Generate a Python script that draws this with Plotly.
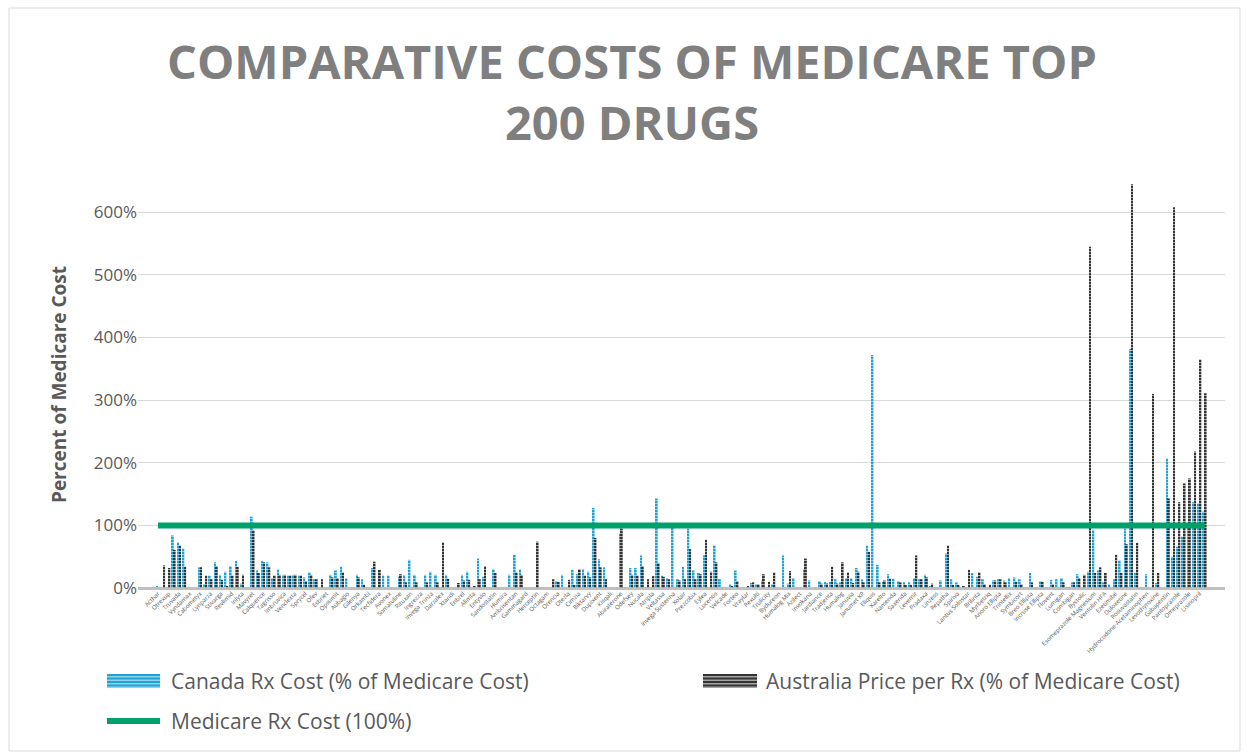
import plotly.graph_objects as go

# Drug names: even positions carry a visible axis label, odd positions are unlabeled
labeled_drugs = [
    "Acthar", "Otrexup", "Truvada", "Vyndamax", "Cabometyx", "Lynparza", "Stivarga", "Revlimid",
    "Inlyta", "Mavyret", "Calquence", "Tagrisso", "Imbruvica", "Venclexta", "Sprycel", "Ofev",
    "Esbriet", "Opsumit", "Aubagio", "Gilenya", "Orkambi", "Tecfidera", "Avonex", "Somatuline",
    "Rituxan", "Ingrezza", "Invega Trinza", "Darzalex", "Xtandi", "Enbrel", "Alimta", "Entyvio",
    "Sandostatin", "Humira", "Ambrisentan", "Gammagard", "Herceptin", "Octagam", "Orencia", "Otezla",
    "Cimzia", "Biktarvy", "Dupixent", "Kisqali", "Abiraterone", "Odefsey", "Nucala", "Atripla",
    "Veltassa", "Invega Sustenna", "Xolair", "Prezcobix", "Eylea", "Lucentis", "Velcade", "Forteo",
    "Vraylar", "Rexulti", "Trulicity", "Bydureon", "Humalog Mix", "Azilect", "Invokana", "Jardiance",
    "Tradjenta", "Humalog", "Januvia", "Janumet XR", "Eliquis", "Xarelto", "Namenda", "Saxenda",
    "Levemir", "Pradaxa", "Linzess", "Repatha", "Spiriva", "Lantus Solostar", "Brilinta", "Myrbetriq",
    "Anoro Ellipta", "Trintellix", "Symbicort", "Breo Ellipta", "Incruse Ellipta", "Flovent", "Lumigan",
    "Combigan", "Bystolic", "Esomeprazole Magnesium", "Ventolin HFA", "Ezetimibe", "Duloxetine",
    "Rosuvastatin", "Hydrocodone-Acetaminophen", "Levothyroxine", "Gabapentin", "Pantoprazole",
    "Omeprazole", "Lisinopril",
]
unlabeled_drugs = [
    "Afinitor", "Zytiga", "Pomalyst", "Jakafi", "Tasigna", "Xeljanz", "Harvoni", "Epclusa",
    "Genvoya", "Triumeq", "Descovy", "Stribild", "Complera", "Isentress", "Prezista", "Juluca",
    "Symtuza", "Tivicay", "Edurant", "Sovaldi", "Zepatier", "Vosevi", "Ocrevus", "Copaxone",
    "Rebif", "Plegridy", "Tysabri", "Kesimpta", "Mayzent", "Ampyra", "Aimovig", "Emgality",
    "Nurtec", "Ubrelvy", "Austedo", "Nuplazid", "Gocovri", "Northera", "Xenazine", "Namzaric",
    "Belsomra", "Lyrica", "Celebrex", "Cymbalta", "Nexium", "Dexilant", "Zetia", "Crestor",
    "Lipitor", "Vytorin", "Welchol", "Praluent", "Multaq", "Ranexa", "Savaysa", "Tikosyn",
    "Coreg", "Diovan", "Benicar", "Azor", "Tribenzor", "Edarbi", "Tekturna", "Letairis",
    "Tracleer", "Adempas", "Uptravi", "Orenitram", "Tyvaso", "Advair", "Dulera", "Arnuity",
    "Asmanex", "Qvar", "ProAir", "Xopenex", "Tudorza", "Stiolto", "Bevespi", "Daliresp",
    "Trelegy", "Toujeo", "Tresiba", "Basaglar", "Novolog", "Apidra", "Soliqua", "Xultophy",
    "Victoza", "Ozempic", "Byetta", "Adlyxin", "Farxiga", "Steglatro", "Xigduo", "Synjardy",
    "Glyxambi", "Onglyza", "Jentadueto", "Nesina",
]

drugs = []
for a, b in zip(labeled_drugs, unlabeled_drugs):
    drugs += [a, b]

# Canada Rx cost as % of Medicare cost (None = no price)
canada = [
    3, None, None, 84, 73, 63, None, None, 33, 6,
    20, 41, 21, 26, 35, 43, 7, None, 114, 28,
    43, 41, 16, 30, 21, 20, 21, 20, 17, 25,
    14, None, None, 21, 28, 34, 16, None, 21, 14,
    None, 32, None, 20, 20, None, 18, 21, 45, 21,
    None, 21, 26, 21, None, 21, None, None, 21, 26,
    None, 47, 18, None, 30, None, None, 21, 53, 30,
    None, None, None, None, None, None, 11, 21, None, 29,
    22, 30, 26, 128, 46, 33, None, None, 87, None,
    32, 32, 52, None, None, 143, 20, 16, 97, 14,
    34, 95, 28, 24, 52, None, 68, 14, None, 6,
    28, None, None, 8, 6, 12, None, 6, None, 52,
    7, 16, None, 30, 12, None, 11, 10, 10, 14,
    9, 16, 16, 32, 14, 68, 372, 37, 10, 22,
    15, 11, 9, 9, 16, 14, 21, 2, None, 12,
    55, 14, 9, None, None, 24, 18, 14, None, 12,
    14, 12, 16, 17, 14, None, 24, None, 11, None,
    13, 14, 16, None, 9, 22, None, 26, 93, 28,
    9, 6, 14, 44, 95, 382, 24, None, 22, None,
    8, None, 207, 50, 66, 82, 98, 137, 135, 122,
]

# Australia price per Rx as % of Medicare cost (None = no price)
australia = [
    None, 36, 32, 61, 68, 34, None, None, 33, 20,
    14, 35, 13, 2, 20, 34, 21, None, 92, 24,
    41, 33, 20, 21, 21, 20, 21, 20, 11, 21,
    14, 14, None, 17, 16, 25, None, None, 17, 5,
    None, 42, 29, None, None, None, 22, 9, None, 9,
    None, 9, None, 9, 73, 15, None, 8, 12, 13,
    2, 14, 35, None, 24, None, None, None, 25, 21,
    None, None, 74, None, None, 14, 10, None, 13, 5,
    30, 20, 17, 80, 33, 14, None, None, 95, None,
    21, 20, 35, 14, 19, 40, 18, 14, None, 12,
    14, 62, 14, 22, 77, 26, 41, None, None, 2,
    11, None, 3, 9, 6, 22, 10, 25, None, None,
    27, None, None, 47, None, None, 7, 7, 34, 7,
    41, 25, 8, 26, 9, 58, None, 9, 12, 15,
    None, 9, 5, 5, 52, 14, 17, 7, None, None,
    68, 5, 5, 3, 29, None, 25, 6, 5, 12,
    14, 9, None, 10, 6, None, 9, None, 10, None,
    6, None, 9, 1, 9, 16, 21, 545, 24, 33,
    24, None, 53, 24, 70, 645, 72, None, None, 310,
    24, None, 143, 608, 137, 167, 175, 218, 365, 311,
]

# Medicare reference cost is 100% for every drug
medicare = [100] * len(drugs)

y_ticks = [0, 100, 200, 300, 400, 500, 600]
y_tick_text = [f"{v}%" for v in y_ticks]

BLUE = "#1FA3D5"
BLUE_LIGHT = "#8FD3EE"
DARK = "#333333"
DARK_LIGHT = "#A6A6A6"
GREEN = "#00A06B"
TEXT = "#595959"

# plot-area geometry in pixels (used for the hand-drawn legend and border)
W, H = 1248, 753
L, R, T, B = 138, 1225, 181, 588


def px_x(x):
    return (x - L) / (R - L)


def px_y(y):
    return (B - y) / (B - T)


fig = go.Figure()

fig.add_trace(go.Bar(
    x=drugs, y=canada, name="Canada Rx Cost (% of Medicare Cost)",
    marker=dict(color=BLUE, line=dict(width=0),
                pattern=dict(shape="-", fgcolor=BLUE_LIGHT, bgcolor=BLUE,
                             size=3, solidity=0.35, fillmode="replace")),
    showlegend=False,
))
fig.add_trace(go.Bar(
    x=drugs, y=australia, name="Australia Price per Rx (% of Medicare Cost)",
    marker=dict(color=DARK, line=dict(width=0),
                pattern=dict(shape="-", fgcolor=DARK_LIGHT, bgcolor=DARK,
                             size=3, solidity=0.35, fillmode="replace")),
    showlegend=False,
))
fig.add_trace(go.Scatter(
    x=drugs, y=medicare, mode="lines", name="Medicare Rx Cost (100%)",
    line=dict(color=GREEN, width=6), showlegend=False,
))

shapes = []
annotations = []

# chart border
shapes.append(dict(type="rect", xref="paper", yref="paper",
                   x0=px_x(9), x1=px_x(1240), y0=px_y(751), y1=px_y(8),
                   line=dict(color="#D9D9D9", width=1), fillcolor="rgba(0,0,0,0)",
                   layer="below"))


def striped_swatch(x0, x1, yc, base, stripe):
    out = [dict(type="rect", xref="paper", yref="paper",
                x0=px_x(x0), x1=px_x(x1), y0=px_y(yc + 7), y1=px_y(yc - 7),
                line=dict(width=0), fillcolor=stripe)]
    for dy in (-6, -2.5, 1, 4.5):
        out.append(dict(type="line", xref="paper", yref="paper",
                        x0=px_x(x0), x1=px_x(x1), y0=px_y(yc + dy), y1=px_y(yc + dy),
                        line=dict(color=base, width=2)))
    return out


shapes += striped_swatch(107, 160, 681, BLUE, BLUE_LIGHT)
shapes += striped_swatch(703, 757, 681, DARK, DARK_LIGHT)
shapes.append(dict(type="line", xref="paper", yref="paper",
                   x0=px_x(107), x1=px_x(160), y0=px_y(721), y1=px_y(721),
                   line=dict(color=GREEN, width=6)))

for label, x, y in [("Canada Rx Cost (% of Medicare Cost)", 169, 681),
                    ("Australia Price per Rx (% of Medicare Cost)", 764, 681),
                    ("Medicare Rx Cost (100%)", 169, 721)]:
    annotations.append(dict(text=label, xref="paper", yref="paper",
                            x=px_x(x), y=px_y(y), xanchor="left", yanchor="middle",
                            showarrow=False,
                            font=dict(family="Open Sans", size=21, color=TEXT)))

# two-line chart title
annotations.append(dict(text="COMPARATIVE COSTS OF MEDICARE TOP<br>200 DRUGS",
                        xref="paper", yref="paper",
                        x=px_x(632), y=px_y(92), xanchor="center", yanchor="middle",
                        showarrow=False,
                        font=dict(family="Open Sans", size=47, color="#7F7F7F",
                                  weight="bold")))

fig.update_layout(
    width=W, height=H,
    margin=dict(l=L, r=W - R, t=T, b=H - B, pad=0),
    paper_bgcolor="white", plot_bgcolor="white",
    barmode="group", bargap=0.3, bargroupgap=0,
    xaxis=dict(type="category", range=[-3.8, 202.85],
               tickmode="array", tickvals=drugs[0::2],
               tickangle=-45, ticks="", showgrid=False, showline=False,
               tickfont=dict(family="Open Sans", size=6, color=TEXT)),
    yaxis=dict(range=[0, 650], tickmode="array", tickvals=y_ticks, ticktext=y_tick_text,
               showgrid=True, gridcolor="#D9D9D9", gridwidth=1,
               zeroline=True, zerolinecolor="#BFBFBF", zerolinewidth=3,
               ticks="", showline=False,
               tickfont=dict(family="Open Sans", size=17, color=TEXT),
               title=dict(text="<b>Percent of Medicare Cost</b>", standoff=22,
                          font=dict(family="Open Sans", size=19, color=TEXT))),
    shapes=shapes, annotations=annotations,
)

fig.write_html("out.html")
